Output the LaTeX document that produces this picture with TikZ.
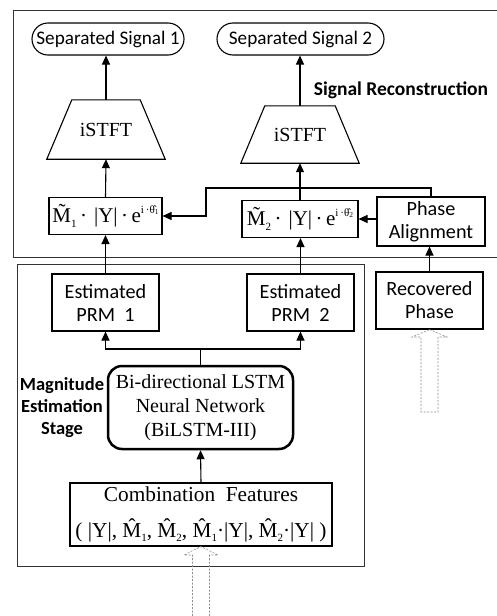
\documentclass[tikz,border=0pt]{standalone}
\usepackage{fontspec}
\setmainfont{Liberation Serif}
\newfontfamily\calfont{Carlito}
\usetikzlibrary{arrows.meta}
\newcommand\lsub[1]{\raisebox{-0.45ex}{\fontsize{11}{11}\selectfont #1}}
\newcommand\lsup[1]{\raisebox{1.0ex}{\fontsize{11}{11}\selectfont #1}}
\newcommand\tsub[1]{\raisebox{-0.3ex}{\fontsize{7.5}{7.5}\selectfont #1}}
\begin{document}
\begin{tikzpicture}[x=1pt,y=-1pt,
 box/.style={draw,line width=1.1pt,inner sep=0pt,align=center},
 arr/.style={line width=1.1pt,-{Triangle[length=9pt,width=8pt]}},
 ln/.style={line width=1.1pt},
 frame/.style={line width=0.8pt,draw=black!80},
 hollow/.style={draw=black!45,line width=0.6pt,dash pattern=on 2pt off 1.5pt},
 lbl/.style={font=\calfont\bfseries\fontsize{19.5}{22}\selectfont,align=center},
 sans/.style={font=\calfont\fontsize{20.2}{23}\selectfont},
 pill/.style={draw,line width=1.1pt,inner sep=0pt,rounded corners=16pt,minimum height=32pt,font=\calfont\fontsize{19.2}{23}\selectfont},
 serif/.style={font=\fontsize{20}{24}\selectfont},
]
\useasboundingbox (0,0) rectangle (497,616);

% frames
\draw[frame] (497,10) -- (13,10) -- (13,257) -- (497,257);
\draw[frame] (17,264) rectangle (364,566);

% outputs
\node[pill,minimum width=152pt] (ss1) at (108,39) {Separated Signal 1};
\node[pill,minimum width=167pt] (ss2) at (300.5,39) {Separated Signal 2};

% iSTFT
\node[inner sep=0pt,minimum width=118pt,minimum height=59pt,serif] (ist1) at (106,129.5) {\raisebox{-3pt}{iSTFT}};
\draw[ln] (ist1.south west) -- (ist1.south east) -- ([xshift=-25pt]ist1.north east) -- ([xshift=25pt]ist1.north west) -- cycle;
\node[inner sep=0pt,minimum width=118pt,minimum height=57pt,serif] (ist2) at (300,134.5) {iSTFT};
\draw[ln] (ist2.south west) -- (ist2.south east) -- ([xshift=-24pt]ist2.north east) -- ([xshift=24pt]ist2.north west) -- cycle;

\node[lbl] (sr) at (401,90) {Signal Reconstruction};

% mask times spectrum
\node[box,minimum width=113pt,minimum height=37pt,font=\fontsize{21}{24}\selectfont] (m1) at (105.5,216)
 {\~{M}\lsub{1}\,·\,\,|Y|\,·\,e\lsup{i\,·\^{θ}\tsub{1}}};
\node[box,minimum width=116pt,minimum height=37pt,font=\fontsize{21}{24}\selectfont] (m2) at (300,219)
 {\~{M}\lsub{2}\,·\,\,|Y|\,·\,e\lsup{i\,·\^{θ}\tsub{2}}};
\node[box,sans,minimum width=108pt,minimum height=49pt] (pa) at (431,221.5) {Phase\\Alignment};

\draw[arr] (m1.north) -- (ist1.south);
\draw[arr] (ist1.north) -- (ist1.north |- ss1.south);
\draw[arr] (m2.north) -- (m2.north |- ist2.south);
\draw[arr] (ist2.north) -- (ist2.north |- ss2.south);
\coordinate (c1) at (206,188);
\draw[arr] (pa.north) |- (c1) |- (m1.east);
\draw[arr] (pa.west |- m2.east) -- (m2.east);

% magnitude estimation stage
\node[box,sans,minimum width=107pt,minimum height=57pt] (prm1) at (105.5,302.5) {Estimated\\PRM\ \ 1};
\node[box,sans,minimum width=107pt,minimum height=57pt] (prm2) at (300.5,302.5) {Estimated\\PRM\ \ 2};
\node[box,sans,minimum width=107pt,minimum height=57pt] (rp) at (429.5,300.5) {Recovered\\Phase};

\draw[arr] (prm1.north) -- (m1.south);
\draw[arr] (prm2.north) -- (prm2.north |- m2.south);
\draw[arr] (rp.north) -- (rp.north |- pa.south);

\node[draw,line width=2.5pt,rounded corners=14pt,minimum width=185pt,minimum height=83pt,inner sep=0pt,serif,align=center] (bl) at (200.5,407.5)
 {Bi-directional LSTM\\Neural Network\\(BiLSTM-III)};
\coordinate (sp) at (200.5,349);
\draw[ln] (bl.north) -- (sp);
\draw[arr] (sp) -| (prm1.south);
\draw[arr] (sp) -| (prm2.south);

\node[lbl,font=\calfont\bfseries\fontsize{18.5}{22}\selectfont] (mes) at (62,408) {Magnitude\\Estimation\\Stage};

\node[box,minimum width=262pt,minimum height=63pt,font=\fontsize{21.3}{36}\selectfont] (comb) at (201,514.5)
 {Combination\ \ Features\\( |Y|, \^{M}\lsub{1}, \^{M}\lsub{2}, \^{M}\lsub{1}·|Y|, \^{M}\lsub{2}·|Y| )};
\draw[arr] (comb.north) -- (bl.south);

% hollow input arrows
\draw[hollow] (192.5,616) -- (192.5,555) -- (184,555) -- (comb.south) -- (218,555) -- (209.5,555) -- (209.5,616);
\draw[hollow] (rp.south) -- (447,337) -- (438,337) -- (438,412) -- (421,412) -- (421,337) -- (412,337) -- cycle;
\end{tikzpicture}
\end{document}
